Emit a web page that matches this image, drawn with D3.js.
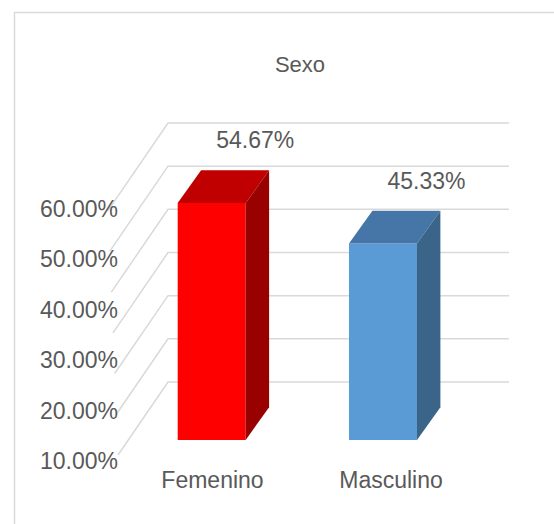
<!DOCTYPE html>
<html>
<head>
<meta charset="utf-8">
<script src="https://cdn.jsdelivr.net/npm/d3@7"></script>
<style>
  body { margin: 0; background: #fff; }
  text { font-family: "Liberation Sans", Arial, sans-serif; fill: #595959; }
</style>
</head>
<body>
<script>
const WIDTH  = 554;
const HEIGHT = 524;

// Chart data
const categories = ["Femenino", "Masculino"];
const values     = [0.5467, 0.4533];
const gridTicks  = [0, 0.1, 0.2, 0.3, 0.4, 0.5, 0.6];   // lines on back wall
const axisTicks  = [0.1, 0.2, 0.3, 0.4, 0.5, 0.6];      // labels shown
const title      = "Sexo";

// Face colours: front, top, side
const palette = [["#FF0000", "#C00000", "#990000"],
                 ["#5B9BD5", "#4675A7", "#3B6489"]];

const DX = 23.4;   // oblique depth offset of the bars
const DY = -32.8;
const GRID_COLOR = "#D9D9D9";
const pct = d3.format(".2%");

const svg = d3.select("body").append("svg")
  .attr("width", WIDTH)
  .attr("height", HEIGHT);

// Chart border (runs off the right and bottom edges)
svg.append("rect")
  .attr("x", 14.5).attr("y", 12.5)
  .attr("width", WIDTH).attr("height", HEIGHT)
  .attr("fill", "none")
  .attr("stroke", GRID_COLOR)
  .attr("stroke-width", 1.5);

// Scales
const xBar = d3.scaleBand().domain(categories).range([177.7, 417])
  .paddingInner(0.603).paddingOuter(0);
const xCat = d3.scalePoint().domain(categories).range([212.5, 391]);
const yBar   = d3.scaleLinear().domain([0, 0.6]).range([440, 180]);
const yWall  = d3.scaleLinear().domain([0, 0.6]).range([382, 123]);
const yFront = d3.scaleLinear().domain([0.1, 0.6]).range([461, 208.5]);
const wallFrontX = d3.scaleLinear().domain([0, 0.6]).range([118, 108]);
const WALL_X = 168, WALL_RIGHT = 509, SLOPE = 1.46;

// Gridlines: back wall + left side wall
const grid = svg.append("g").attr("stroke", GRID_COLOR).attr("stroke-width", 1.5).attr("fill", "none");
gridTicks.forEach(t => {
  const yb = yWall(t);
  const fx = wallFrontX(t);
  grid.append("polyline")
    .attr("points", [[fx, yb + (WALL_X - fx) * SLOPE], [WALL_X, yb], [WALL_RIGHT, yb]].join(" "));
});

// Value axis labels
svg.append("g").selectAll("text")
  .data(axisTicks)
  .enter().append("text")
    .attr("x", 118)
    .attr("y", d => yFront(d) + 8)
    .attr("text-anchor", "end")
    .style("font-size", "23px")
    .text(d => pct(d));

// 3D bars
const bars = svg.append("g").selectAll("g")
  .data(categories)
  .enter().append("g");

bars.each(function (c, i) {
  const g = d3.select(this);
  const x0 = xBar(c), x1 = x0 + xBar.bandwidth();
  const yT = yBar(values[i]), yB = yBar(0);
  // front
  g.append("polygon")
    .attr("points", [[x0, yT], [x1, yT], [x1, yB], [x0, yB]].join(" "))
    .attr("fill", palette[i][0]);
  // top
  g.append("polygon")
    .attr("points", [[x0, yT], [x0 + DX, yT + DY], [x1 + DX, yT + DY], [x1, yT]].join(" "))
    .attr("fill", palette[i][1]);
  // side
  g.append("polygon")
    .attr("points", [[x1, yT], [x1 + DX, yT + DY], [x1 + DX, yB + DY], [x1, yB]].join(" "))
    .attr("fill", palette[i][2]);
});

// Data labels
svg.append("g").selectAll("text")
  .data(categories)
  .enter().append("text")
    .attr("x", c => xBar(c) + xBar.bandwidth() / 2 + 43.5)
    .attr("y", (c, i) => yBar(values[i]) + DY - 22)
    .attr("text-anchor", "middle")
    .style("font-size", "23px")
    .text((c, i) => pct(values[i]));

// Category labels
svg.append("g").selectAll("text")
  .data(categories)
  .enter().append("text")
    .attr("x", c => xCat(c))
    .attr("y", 488)
    .attr("text-anchor", "middle")
    .style("font-size", "23px")
    .text(c => c);

// Title
svg.append("text")
  .attr("x", 300)
  .attr("y", 72)
  .attr("text-anchor", "middle")
  .style("font-size", "22px")
  .text(title);
</script>
</body>
</html>
